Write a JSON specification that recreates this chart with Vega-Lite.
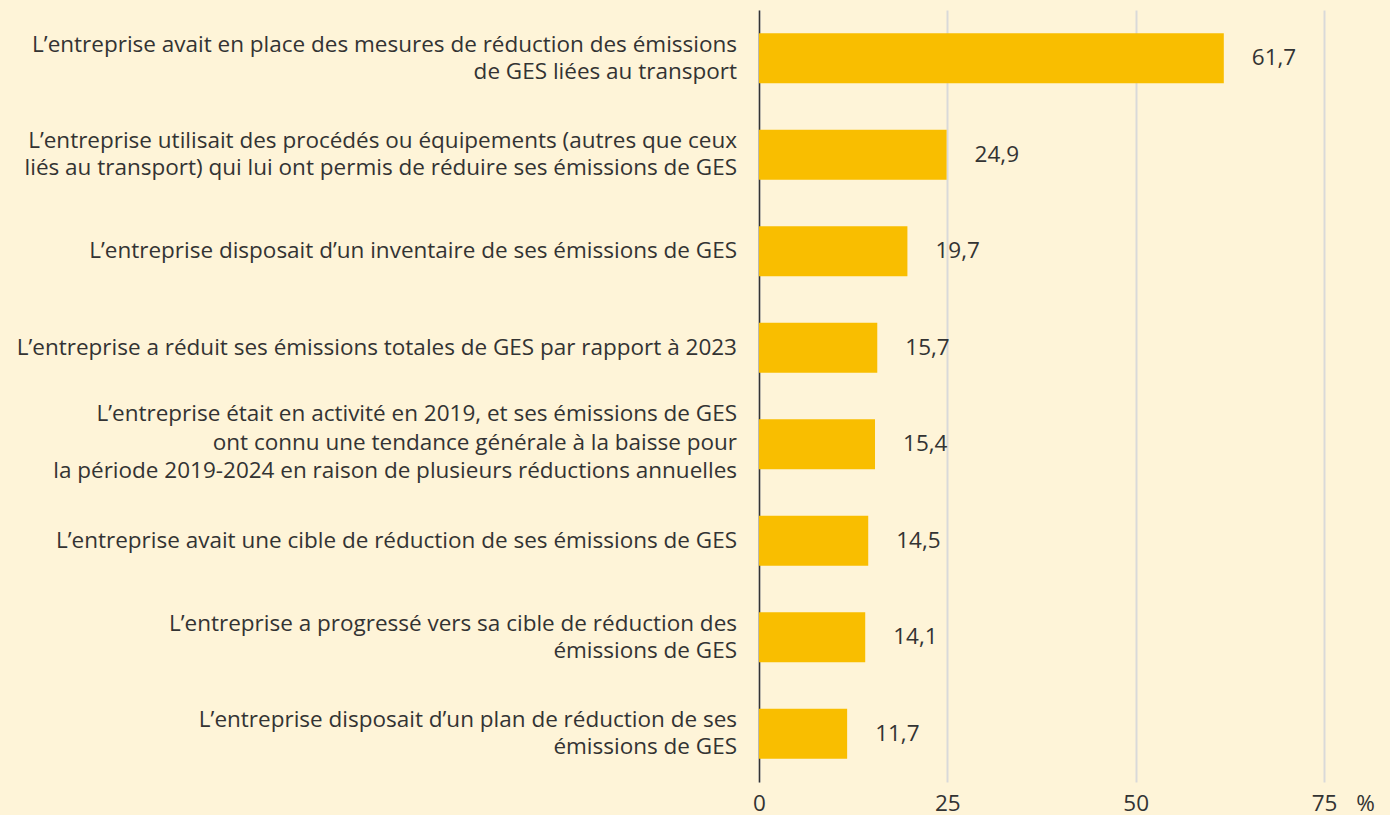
{
  "$schema": "https://vega.github.io/schema/vega-lite/v6.json",
  "width": 565,
  "height": 772,
  "autosize": {"type": "none"},
  "padding": {"left": 759, "top": 10, "right": 66, "bottom": 33},
  "background": "#FEF4D8",
  "config": {
    "view": {"stroke": null},
    "font": "Open Sans",
    "axis": {"labelFont": "Open Sans", "titleFont": "Open Sans"}
  },
  "data": {
    "values": [
      {"cat": "L’entreprise avait en place des mesures de réduction des émissions|de GES liées au transport", "value": 61.7, "label": "61,7"},
      {"cat": "L’entreprise utilisait des procédés ou équipements (autres que ceux|liés au transport) qui lui ont permis de réduire ses émissions de GES", "value": 24.9, "label": "24,9"},
      {"cat": "L’entreprise disposait d’un inventaire de ses émissions de GES", "value": 19.7, "label": "19,7"},
      {"cat": "L’entreprise a réduit ses émissions totales de GES par rapport à 2023", "value": 15.7, "label": "15,7"},
      {"cat": "L’entreprise était en activité en 2019, et ses émissions de GES|ont connu une tendance générale à la baisse pour|la période 2019-2024 en raison de plusieurs réductions annuelles", "value": 15.4, "label": "15,4"},
      {"cat": "L’entreprise avait une cible de réduction de ses émissions de GES", "value": 14.5, "label": "14,5"},
      {"cat": "L’entreprise a progressé vers sa cible de réduction des|émissions de GES", "value": 14.1, "label": "14,1"},
      {"cat": "L’entreprise disposait d’un plan de réduction de ses|émissions de GES", "value": 11.7, "label": "11,7"}
    ]
  },
  "encoding": {
    "y": {
      "field": "cat",
      "type": "nominal",
      "sort": null,
      "scale": {"paddingInner": 0.48, "paddingOuter": 0.24},
      "axis": {
        "title": null,
        "ticks": false,
        "labels": false,
        "domain": true,
        "domainColor": "#333333",
        "domainWidth": 1.5
      }
    },
    "x": {
      "field": "value",
      "type": "quantitative",
      "scale": {"domain": [0, 75], "nice": false},
      "axis": {
        "values": [0, 25, 50, 75],
        "domain": false,
        "ticks": false,
        "grid": true,
        "gridColor": "#D9D9D9",
        "gridWidth": 2,
        "labelFlush": false,
        "labelFontSize": 22.5,
        "labelColor": "#333333",
        "labelPadding": 10,
        "title": "%",
        "titleFontSize": 22.5,
        "titleFontWeight": "normal",
        "titleColor": "#333333",
        "titleX": 606,
        "titleY": 10,
        "titleAlign": "center",
        "titleBaseline": "top"
      }
    }
  },
  "layer": [
    {"mark": {"type": "bar", "color": "#F9BE00"}},
    {
      "mark": {"type": "text", "align": "left", "baseline": "middle", "dx": 28, "fontSize": 22.5, "color": "#333333"},
      "encoding": {"text": {"field": "label"}}
    },
    {
      "transform": [{"filter": "length(split(datum.cat, '|')) == 1"}],
      "mark": {"type": "text", "align": "right", "baseline": "middle", "dx": -22, "fontSize": 22.5, "color": "#333333", "lineBreak": "|", "lineHeight": 27},
      "encoding": {"x": {"datum": 0, "type": "quantitative"}, "text": {"field": "cat"}}
    },
    {
      "transform": [{"filter": "length(split(datum.cat, '|')) == 2"}],
      "mark": {"type": "text", "align": "right", "baseline": "middle", "dx": -22, "dy": -13.5, "fontSize": 22.5, "color": "#333333", "lineBreak": "|", "lineHeight": 27},
      "encoding": {"x": {"datum": 0, "type": "quantitative"}, "text": {"field": "cat"}}
    },
    {
      "transform": [{"filter": "length(split(datum.cat, '|')) == 3"}],
      "mark": {"type": "text", "align": "right", "baseline": "middle", "dx": -22, "dy": -30, "fontSize": 22.5, "color": "#333333", "lineBreak": "|", "lineHeight": 28.5},
      "encoding": {"x": {"datum": 0, "type": "quantitative"}, "text": {"field": "cat"}}
    }
  ]
}
